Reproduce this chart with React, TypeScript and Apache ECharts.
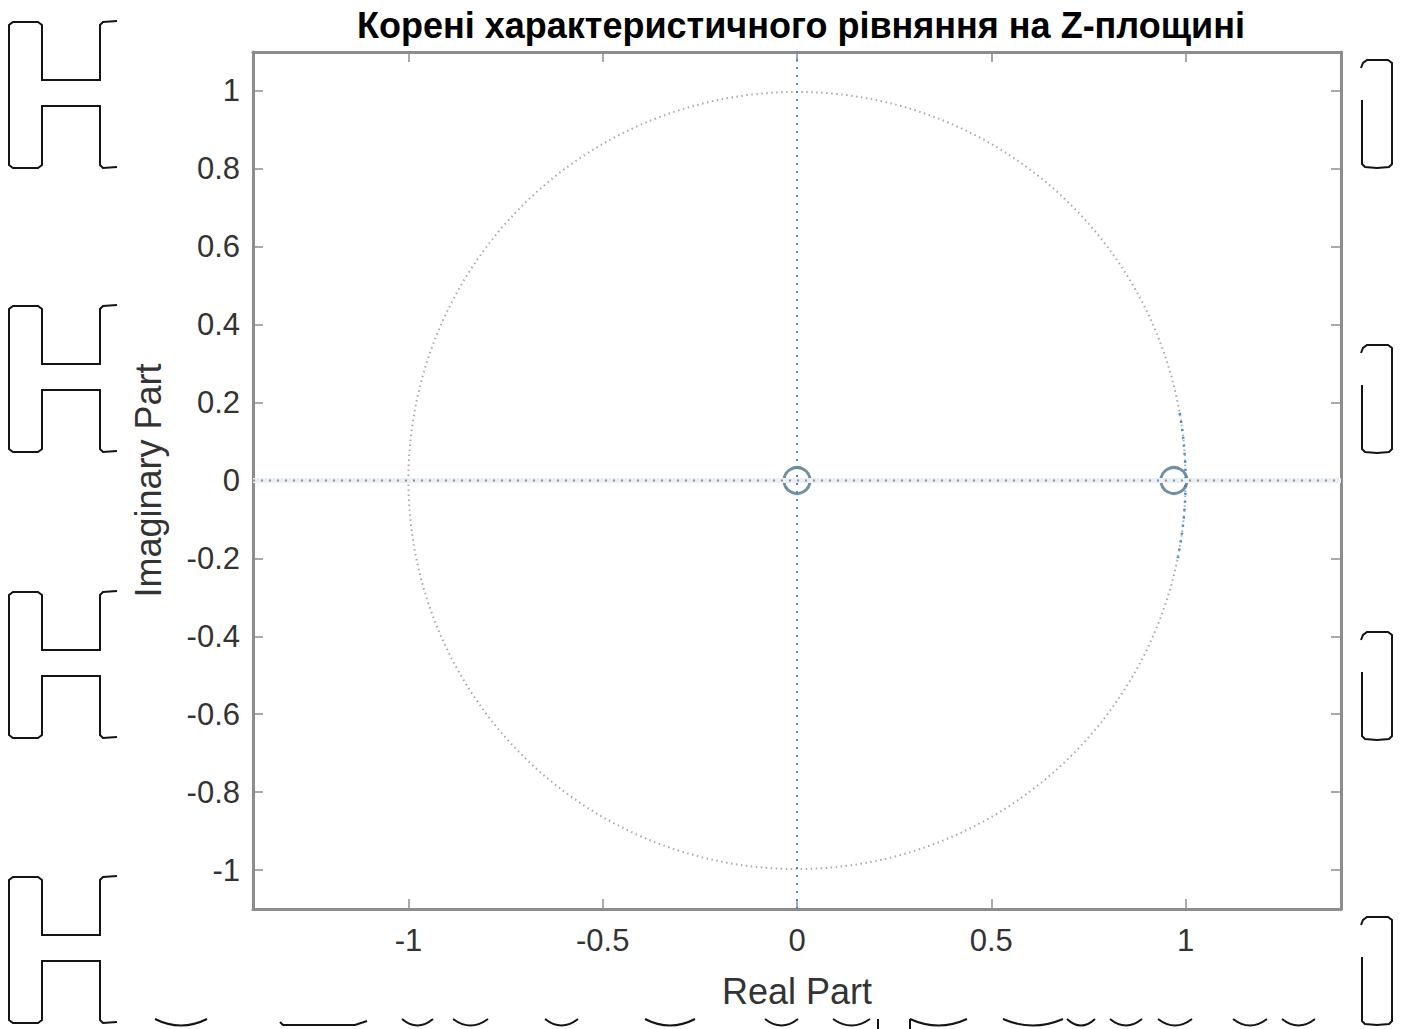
import React, { useEffect, useRef } from "react";
import * as echarts from "echarts";

// ---- data ----
const titleText = "Корені характеристичного рівняння на Z-площині";
const xAxisName = "Real Part";
const yAxisName = "Imaginary Part";
const xTickValues = [-1, -0.5, 0, 0.5, 1];
const yTickValues = [-1, -0.8, -0.6, -0.4, -0.2, 0, 0.2, 0.4, 0.6, 0.8, 1];
const xRange = [-1.4, 1.4];
const yRange = [-1.1, 1.1];
const zerosReal = [0, 0.97];
const zerosImag = [0, 0];
// unit circle: [centerX, centerY, radius]
const unitCircle = [[0, 0, 1]];
// highlighted arc of unit circle: [cx, cy, r, startDeg, endDeg] (screen degrees)
const unitArc = [[0, 0, 1, -10, 11.5]];
const realAxisLine = [[-1.4, 0], [1.4, 0]];
const imagAxisLine = [[0, -1.1], [0, 1.1]];

// decorative scan marks (page artifacts)
const hTops = [22, 306, 592, 877];
const bracketTops = [60, 345, 632, 917];
const bottomArcs = [
  [155, 207], [402, 433], [453, 488], [545, 578], [645, 695], [765, 798],
  [833, 870], [910, 967], [1003, 1063], [1067, 1095], [1110, 1142],
  [1158, 1192], [1233, 1267], [1282, 1315],
];

const FONT = "'Liberation Sans', Arial, Helvetica, sans-serif";

function buildDecorations() {
  const els: any[] = [];
  const st = { stroke: "#141414", lineWidth: 2, fill: null };
  hTops.forEach((T) => {
    const B = T + 146;
    els.push({
      type: "polyline",
      silent: true,
      shape: {
        points: [
          [117, T - 1], [103, T], [100, T + 3], [100, T + 58], [42, T + 58],
          [42, T + 3], [38, T], [13, T], [9, T + 3], [9, B - 3], [13, B],
          [38, B], [42, B - 3], [42, T + 84], [100, T + 84], [100, B - 3],
          [103, B], [117, B - 1],
        ],
      },
      style: st,
    });
  });
  bracketTops.forEach((T) => {
    els.push({
      type: "polyline",
      silent: true,
      shape: {
        points: [
          [1361, T + 8], [1363, T + 3], [1367, T], [1388, T], [1392, T + 3],
          [1392, T + 104], [1389, T + 107], [1377, T + 108], [1365, T + 107],
          [1362, T + 104], [1362, T + 40],
        ],
      },
      style: st,
    });
  });
  bottomArcs.forEach(([a, b]) => {
    els.push({
      type: "bezierCurve",
      silent: true,
      shape: { x1: a, y1: 1019, x2: b, y2: 1019, cpx1: (a + b) / 2, cpy1: 1032 },
      style: st,
    });
  });
  els.push({
    type: "polyline",
    silent: true,
    shape: { points: [[280, 1022], [283, 1025], [355, 1025], [367, 1021]] },
    style: st,
  });
  els.push({ type: "line", silent: true, shape: { x1: 878, y1: 1019, x2: 878, y2: 1029 }, style: st });
  els.push({ type: "line", silent: true, shape: { x1: 910, y1: 1019, x2: 910, y2: 1029 }, style: st });
  return els;
}

export default function App() {
  const ref = useRef<HTMLDivElement>(null);
  useEffect(() => {
    if (!ref.current) return;
    const chart = echarts.init(ref.current, null, { renderer: "svg" });
    const frame = { lineStyle: { color: "#8c8c8c", width: 3 } };
    const tickStyle = { color: "#8c8c8c", width: 1.5 };
    const fmt = (v: number) => `${+Number(v).toFixed(1)}`;
    chart.setOption({
      animation: false,
      backgroundColor: "#ffffff",
      title: {
        text: titleText,
        left: 796,
        top: 2,
        textAlign: "center",
        textStyle: { fontFamily: FONT, fontSize: 36, fontWeight: "bold", color: "#000" },
      },
      grid: { left: 253, right: 64, top: 52, bottom: 120 },
      xAxis: [
        {
          type: "value",
          min: xRange[0],
          max: xRange[1],
          name: xAxisName,
          nameLocation: "middle",
          nameGap: 64,
          nameTextStyle: { fontFamily: FONT, fontSize: 36, color: "#333" },
          axisLine: { show: true, onZero: false, ...frame },
          axisTick: { show: true, inside: true, length: 10, lineStyle: tickStyle, customValues: xTickValues },
          axisLabel: { fontFamily: FONT, fontSize: 31, color: "#333", margin: 16, customValues: xTickValues, formatter: fmt },
          splitLine: { show: false },
        },
        {
          type: "value",
          position: "top",
          min: xRange[0],
          max: xRange[1],
          axisLine: { show: true, onZero: false, ...frame },
          axisTick: { show: true, inside: true, length: 10, lineStyle: tickStyle, customValues: xTickValues },
          axisLabel: { show: false },
          splitLine: { show: false },
        },
      ],
      yAxis: [
        {
          type: "value",
          min: yRange[0],
          max: yRange[1],
          name: yAxisName,
          nameLocation: "middle",
          nameGap: 87,
          nameTextStyle: { fontFamily: FONT, fontSize: 36, color: "#333" },
          axisLine: { show: true, onZero: false, ...frame },
          axisTick: { show: true, inside: true, length: 10, lineStyle: tickStyle, customValues: yTickValues },
          axisLabel: { fontFamily: FONT, fontSize: 31, color: "#333", margin: 13, customValues: yTickValues, formatter: fmt },
          splitLine: { show: false },
        },
        {
          type: "value",
          position: "right",
          min: yRange[0],
          max: yRange[1],
          axisLine: { show: true, onZero: false, ...frame },
          axisTick: { show: true, inside: true, length: 10, lineStyle: tickStyle, customValues: yTickValues },
          axisLabel: { show: false },
          splitLine: { show: false },
        },
      ],
      series: [
        {
          type: "line",
          data: realAxisLine,
          showSymbol: false,
          silent: true,
          lineStyle: { color: "#e9eff4", width: 5 },
        },
        {
          type: "line",
          data: realAxisLine,
          showSymbol: false,
          silent: true,
          lineStyle: { color: "#8e8e8e", width: 2, type: [2, 6] },
        },
        {
          type: "line",
          data: imagAxisLine,
          showSymbol: false,
          silent: true,
          lineStyle: { color: "#3f8ad0", width: 2, type: [2, 6] },
        },
        {
          type: "custom",
          silent: true,
          data: unitCircle,
          encode: { x: 0, y: 1 },
          renderItem: (params: any, api: any) => {
            const c = api.coord([api.value(0), api.value(1)]);
            const r = api.size([api.value(2), 0])[0];
            return {
              type: "circle",
              shape: { cx: c[0], cy: c[1], r },
              style: { fill: "none", stroke: "#a9a9a9", lineWidth: 2, lineDash: [1.5, 3.5] },
            };
          },
        },
        {
          type: "custom",
          silent: true,
          data: unitArc,
          encode: { x: 0, y: 1 },
          renderItem: (params: any, api: any) => {
            const c = api.coord([api.value(0), api.value(1)]);
            const r = api.size([api.value(2), 0])[0];
            return {
              type: "arc",
              shape: {
                cx: c[0],
                cy: c[1],
                r,
                startAngle: (api.value(3) * Math.PI) / 180,
                endAngle: (api.value(4) * Math.PI) / 180,
                clockwise: true,
              },
              style: { fill: "none", stroke: "#3f8ad0", lineWidth: 2.5, lineDash: [2, 6] },
            };
          },
        },
        {
          type: "scatter",
          data: zerosReal.map((x, i) => [x, zerosImag[i]]),
          symbol: "circle",
          symbolSize: 26,
          silent: true,
          itemStyle: { color: "rgba(0,0,0,0)", borderColor: "#4d7487", borderWidth: 3 },
        },
      ],
      graphic: { elements: buildDecorations() },
    });
    return () => chart.dispose();
  }, []);
  return (
    <div
      ref={ref}
      style={{ position: "fixed", left: 0, top: 0, width: 1405, height: 1029, background: "#fff" }}
    />
  );
}
